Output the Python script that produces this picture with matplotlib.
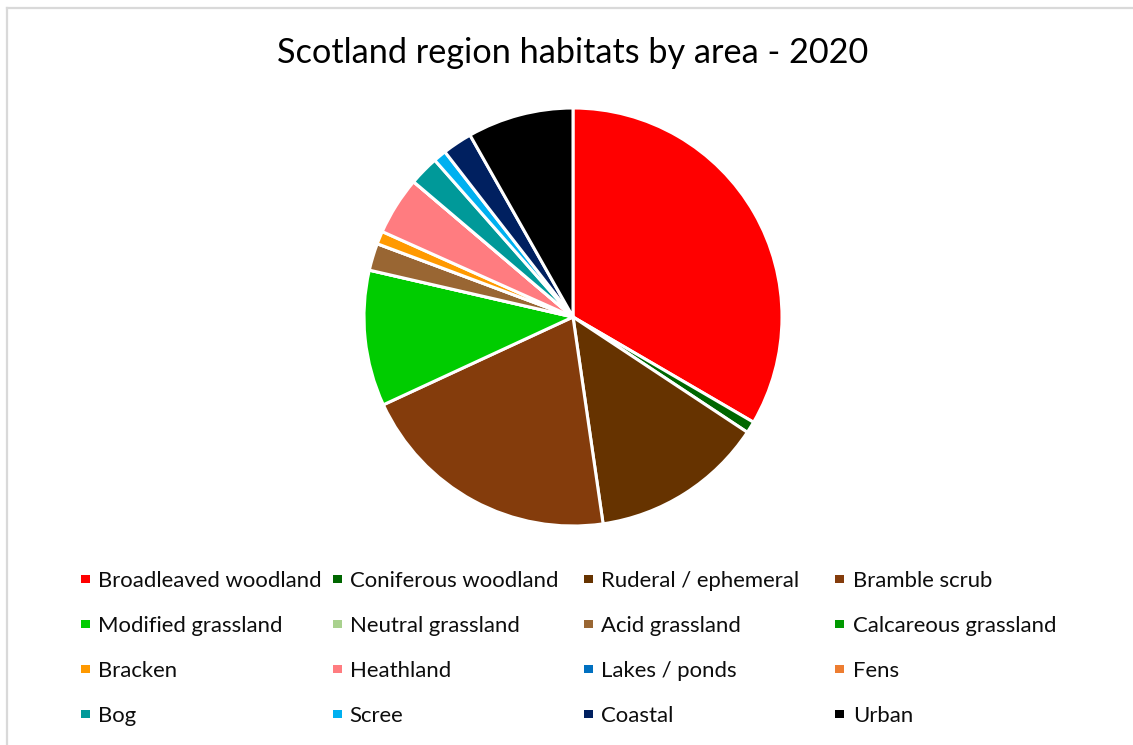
import matplotlib
matplotlib.use("Agg")
import matplotlib.pyplot as plt
from matplotlib.patches import Rectangle
from matplotlib.lines import Line2D

# Habitat shares (% of total area)
habitats = [
    "Broadleaved woodland", "Coniferous woodland", "Ruderal / ephemeral", "Bramble scrub",
    "Modified grassland", "Neutral grassland", "Acid grassland", "Calcareous grassland",
    "Bracken", "Heathland", "Lakes / ponds", "Fens",
    "Bog", "Scree", "Coastal", "Urban",
]
area_share = [
    33.4, 0.9, 13.4, 20.4,
    10.5, 0.0, 2.1, 0.0,
    1.0, 4.5, 0.0, 0.0,
    2.3, 1.0, 2.3, 8.2,
]
colors = [
    "#FF0000", "#006600", "#663300", "#843C0C",
    "#00CC00", "#A9D18E", "#996633", "#009900",
    "#FF9900", "#FF7C80", "#0070C0", "#ED7D31",
    "#009999", "#00B0F0", "#002060", "#000000",
]

W, H = 1133, 745
fig = plt.figure(figsize=(W / 100, H / 100), dpi=100)
fig.patch.set_facecolor("white")

FONT = ["Lato", "DejaVu Sans"]

# Chart area border (left and top edges)
fig.add_artist(Line2D([7 / W, 7 / W], [0, 1 - 7.5 / H], transform=fig.transFigure,
                      color="#D9D9D9", lw=1.6))
fig.add_artist(Line2D([7 / W, 1], [1 - 7.5 / H, 1 - 7.5 / H], transform=fig.transFigure,
                      color="#D9D9D9", lw=1.6))

# Pie
cx, cy, r = 573, 317, 209
ax = fig.add_axes([(cx - r) / W, (H - cy - r) / H, 2 * r / W, 2 * r / H])
ax.pie(area_share, colors=colors, startangle=90, counterclock=False, radius=1,
       wedgeprops=dict(edgecolor="white", linewidth=2.2))
ax.set_xlim(-1, 1)
ax.set_ylim(-1, 1)
ax.set_aspect("equal")
ax.axis("off")

# Title
fig.text(573 / W, 1 - 53 / H, "Scotland region habitats by area - 2020",
         ha="center", va="center", fontsize=24.7, family=FONT, color="#000000")

# Legend (row-wise, 4 columns)
marker_x = [81, 333, 584, 835]
text_x = [98, 349.5, 601, 853]
row_y = [579, 624, 669, 714]
sq = 8.5
for i, (name, col) in enumerate(zip(habitats, colors)):
    rr, cc = divmod(i, 4)
    fig.add_artist(Rectangle((marker_x[cc] / W, 1 - (row_y[rr] + sq / 2) / H),
                             sq / W, sq / H, transform=fig.transFigure,
                             facecolor=col, edgecolor="none"))
    fig.text(text_x[cc] / W, 1 - row_y[rr] / H, name, ha="left", va="center_baseline",
             fontsize=15.9, family=FONT, color="#0D0D0D")

fig.savefig("out.png", dpi=100, facecolor="white")
